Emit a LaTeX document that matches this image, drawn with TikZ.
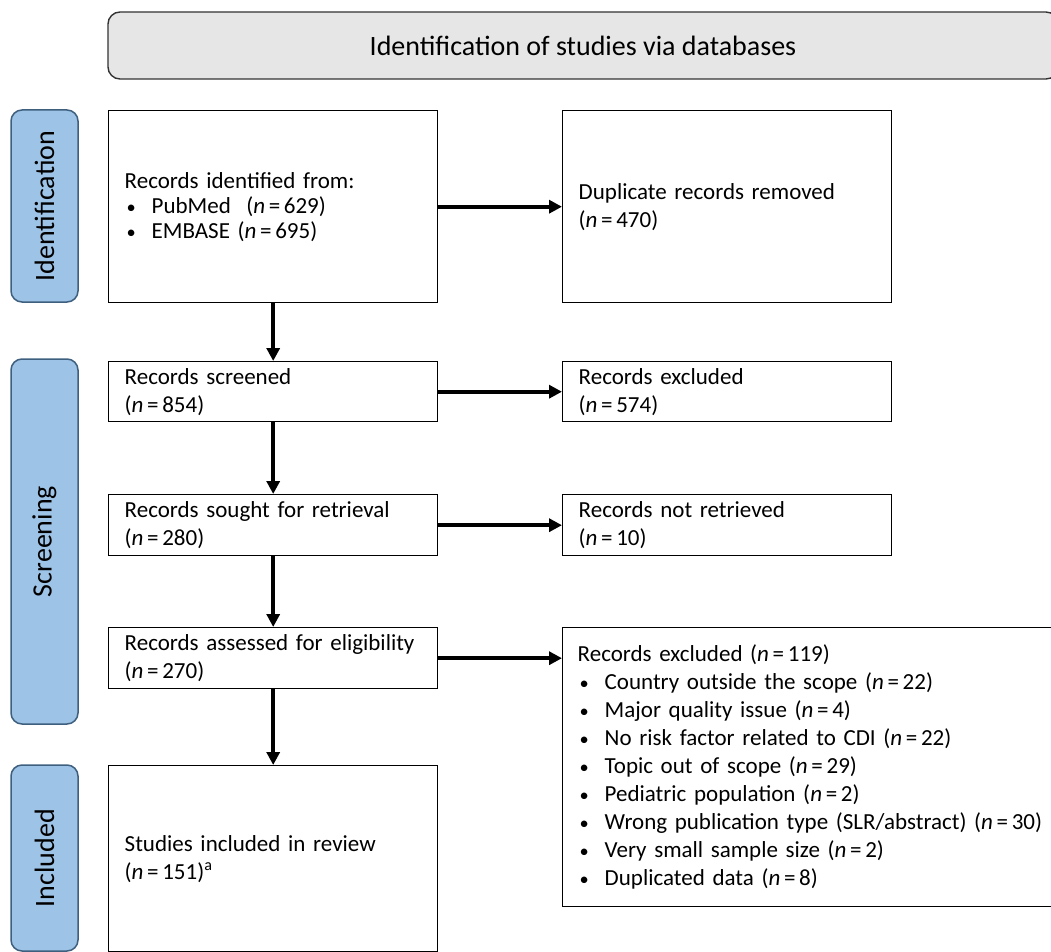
\documentclass[tikz,border=0pt]{standalone}
\usepackage{fontspec}
\setmainfont{Carlito}
\usetikzlibrary{arrows.meta, positioning}
\definecolor{tabblue}{HTML}{9DC3E6}
\definecolor{tabedge}{HTML}{3E5F7E}
\definecolor{headgray}{HTML}{E7E6E6}
\newcommand{\bul}[1]{\hspace*{2pt}\makebox[25pt][l]{\scalebox{0.8}{\textbullet}}#1}
\newcommand{\nval}[1]{(\textit{n}\hspace{0.16em}=\hspace{0.16em}#1)}

\begin{document}
\begin{tikzpicture}[x=1pt, y=-1pt,
  >={Triangle[length=13pt, width=13pt]},
  box/.style={draw, line width=1.4pt, anchor=north west, inner xsep=16pt, inner ysep=2pt,
    align=left, font=\fontsize{23}{28}\selectfont},
  phase/.style={draw=tabedge, fill=tabblue, line width=1.5pt, rounded corners=11pt,
    rotate=90, minimum height=67pt, font=\fontsize{28}{34}\selectfont},
  flow/.style={->, line width=3.8pt}]
    \clip (0,0) rectangle (1051,952);
    % header
    \node[draw=black!80, fill=headgray, line width=1.4pt, rounded corners=12pt,
      minimum width=950pt, minimum height=67pt, font=\fontsize{28}{34}\selectfont]
      (head) at (583,45.5) {Identification of studies via databases};
    % phases
    \node[phase, minimum width=192pt] (tabid) at (44.5,206) {Identification};
    \node[phase, minimum width=365pt] (tabscr) at (44.5,541.5) {Screening};
    \node[phase, minimum width=186pt] (tabinc) at (44.5,858) {Included};
    % left column
    \node[box, minimum width=329pt, minimum height=192pt, text width=297pt,
      font=\fontsize{23}{25}\selectfont] (ident) at (108,110)
      {Records identified from:\\ \bul{PubMed\ \ \nval{629}}\\ \bul{EMBASE \nval{695}}};
    \node[box, minimum width=329pt, minimum height=60pt, text width=297pt] (screen) at (108,361)
      {Records screened\\ \nval{854}};
    \node[box, minimum width=329pt, minimum height=61pt, text width=297pt] (sought) at (108,494)
      {Records sought for retrieval\\ \nval{280}};
    \node[box, minimum width=329pt, minimum height=61pt, text width=297pt] (assess) at (108,627)
      {Records assessed for eligibility\\ \nval{270}};
    \node[box, minimum width=329pt, minimum height=186pt, text width=297pt] (incl) at (108,765)
      {Studies included in review\\ \nval{151}\textsuperscript{a}};
    % right column
    \node[box, minimum width=329pt, minimum height=192pt, text width=297pt] (dup) at (562,110)
      {Duplicate records removed\\ \nval{470}};
    \node[box, minimum width=329pt, minimum height=60pt, text width=297pt] (excl) at (562,361)
      {Records excluded\\ \nval{574}};
    \node[box, minimum width=329pt, minimum height=61pt, text width=297pt] (notret) at (562,494)
      {Records not retrieved\\ \nval{10}};
    \node[box, minimum width=510pt, minimum height=279pt, text width=480pt, inner xsep=15pt] (exclel) at (562,627)
      {Records excluded \nval{119}\\
       \bul{Country outside the scope \nval{22}}\\
       \bul{Major quality issue \nval{4}}\\
       \bul{No risk factor related to CDI \nval{22}}\\
       \bul{Topic out of scope \nval{29}}\\
       \bul{Pediatric population \nval{2}}\\
       \bul{Wrong publication type (SLR/abstract) \nval{30}}\\
       \bul{Very small sample size \nval{2}}\\
       \bul{Duplicated data \nval{8}}};
    % arrows
    \draw[flow] (ident) -- (screen);
    \draw[flow] (screen) -- (sought);
    \draw[flow] (sought) -- (assess);
    \draw[flow] (assess) -- (incl);
    \draw[flow] (ident) -- (dup);
    \draw[flow] (screen) -- (excl);
    \draw[flow] (sought) -- (notret);
    \draw[flow] (assess.east) -- (assess.east -| exclel.west);
\end{tikzpicture}
\end{document}
